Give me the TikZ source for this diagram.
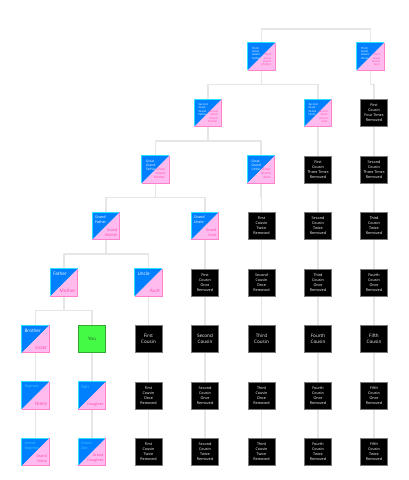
\documentclass[tikz,border=0pt]{standalone}
\usepackage{fontspec}
\setmainfont{Open Sans}
\definecolor{bfill}{RGB}{0,128,255}
\definecolor{bline}{RGB}{40,225,255}
\definecolor{pfill}{RGB}{255,187,238}
\definecolor{pline}{RGB}{255,130,200}
\definecolor{ptext}{RGB}{255,70,165}
\definecolor{ltblue}{RGB}{60,205,255}
\definecolor{conncol}{RGB}{230,230,230}
\definecolor{gfill}{RGB}{68,250,68}
\definecolor{gline}{RGB}{50,170,50}
\definecolor{gtext}{RGB}{40,90,40}
\definecolor{kline}{RGB}{120,120,120}
\pgfdeclarelayer{bg}
\pgfsetlayers{bg,main}
\tikzset{
  conn/.style={draw=conncol,line width=1.8pt},
  boxshape/.style={minimum width=27pt,minimum height=27pt,inner sep=0pt},
  toptext/.style={anchor=north west,align=left,inner xsep=2.5pt,inner ysep=3pt,text=white},
  bottext/.style={anchor=south east,align=right,inner xsep=2pt,inner ysep=3pt,text=ptext},
  tinyt/.style={inner xsep=4pt,inner ysep=4pt},
  blkbox/.style={minimum width=27pt,minimum height=27pt,inner sep=0pt,fill=black,draw=kline,line width=1pt,text=white,align=center},
  youbox/.style={minimum width=27pt,minimum height=27pt,inner sep=0pt,fill=gfill,draw=gline,line width=1pt,text=gtext},
  fA/.style={font=\fontsize{4.6}{5.6}\selectfont},
  fB/.style={font=\fontsize{3.7}{5}\selectfont},
  fC/.style={font=\fontsize{3.2}{4}\selectfont},
  fD/.style={font=\fontsize{2.7}{3.4}\selectfont},
  lb/.style={text=ltblue}
}
\newcommand{\duo}[7]{%
  \node[boxshape] (#1) at (#2,#3) {};
  \fill[bfill] (#1.north west) -- (#1.north east) -- (#1.south west) -- cycle;
  \fill[pfill] (#1.north east) -- (#1.south east) -- (#1.south west) -- cycle;
  \draw[bline,line width=1pt] (#1.south west) -- (#1.north west) -- (#1.north east);
  \draw[pline,line width=1pt] (#1.north east) -- (#1.south east) -- (#1.south west);
  \node[toptext,#6] (#1-t) at (#1.north west) {#4};
  \node[bottext,#7] (#1-b) at (#1.south east) {#5};
}
\newcommand{\lnk}[2]{\begin{pgfonlayer}{bg}\draw[conn] (#1.south) -- ++(0,14.25) -| (#2.north);\end{pgfonlayer}}
\begin{document}
\begin{tikzpicture}[x=1pt,y=-1pt]
\begin{pgfonlayer}{bg}
\fill[white] (0,0) rectangle (409,480);
\end{pgfonlayer}
\useasboundingbox (0,0) rectangle (409,480);
% row 1
\duo{ggfT}{261.5}{56.5}{Third\\Great\\Grand\\Father}{Third\\Great\\Grand\\Mother}{fD,tinyt}{fD,tinyt}
\duo{gguT}{370.5}{56.5}{Third\\Great\\Grand\\Uncle}{Third\\Great\\Grand\\Aunt}{fD,tinyt}{fD,tinyt}
% row 2
\duo{ggfS}{208}{113}{Second\\Great\\Grand\\Father}{Second\\Great\\Grand\\Mother}{fD,tinyt}{fD,tinyt}
\duo{gguS}{318}{113}{Second\\Great\\Grand\\Uncle}{Second\\Great\\Grand\\Aunt}{fD,tinyt}{fD,tinyt}
\node[blkbox,fB] (fc4r) at (374,113) {First\\Cousin\\Four Times\\Removed};
% row 3
\duo{ggf}{155.5}{169.5}{Great\\Grand\\Father}{Great\\Grand\\Mother}{fC,tinyt}{fC,tinyt}
\duo{ggu}{261}{169.5}{Great\\Grand\\Uncle}{Great\\Grand\\Aunt}{fC,tinyt}{fC,tinyt}
\node[blkbox,fB] (fc3r) at (318,169.5) {First\\Cousin\\Three Times\\Removed};
\node[blkbox,fB] (sc3r) at (374,169.5) {Second\\Cousin\\Three Times\\Removed};
% row 4
\duo{gf}{106}{226}{Grand\\Father}{Grand\\Mother}{fB}{fB}
\duo{gu}{205}{226}{Grand\\Uncle}{Grand\\Aunt}{fB}{fB}
\node[blkbox,fB] (fc2ra) at (261.5,226) {First\\Cousin\\Twice\\Removed};
\node[blkbox,fB] (sc2ra) at (318,226) {Second\\Cousin\\Twice\\Removed};
\node[blkbox,fB] (tc2ra) at (374,226) {Third\\Cousin\\Twice\\Removed};
% row 5
\duo{father}{64}{282.5}{Father}{Mother}{fA}{fA}
\duo{uncle}{148.5}{282.5}{Uncle}{Aunt}{fA}{fA}
\node[blkbox,fB] (fc1ra) at (205,282.5) {First\\Cousin\\Once\\Removed};
\node[blkbox,fB] (sc1ra) at (261.5,282.5) {Second\\Cousin\\Once\\Removed};
\node[blkbox,fB] (tc1ra) at (318,282.5) {Third\\Cousin\\Once\\Removed};
\node[blkbox,fB] (qc1ra) at (374,282.5) {Fourth\\Cousin\\Once\\Removed};
% row 6
\duo{brother}{35.5}{339}{Brother}{Sister}{fA}{fA}
\node[youbox,fA] (you) at (92,339) {You};
\node[blkbox,fA] (c1) at (148.5,339) {First\\Cousin};
\node[blkbox,fA] (c2) at (205,339) {Second\\Cousin};
\node[blkbox,fA] (c3) at (261.5,339) {Third\\Cousin};
\node[blkbox,fA] (c4) at (318,339) {Fourth\\Cousin};
\node[blkbox,fA] (c5) at (374,339) {Fifth\\Cousin};
% row 7
\duo{nephew}{35.5}{395.5}{Nephew}{Niece}{fB,lb}{fA}
\duo{son}{92}{395.5}{Son}{Daughter}{fA,lb}{fB}
\node[blkbox,fB] (c1r1) at (148.5,395.5) {First\\Cousin\\Once\\Removed};
\node[blkbox,fB] (c2r1) at (205,395.5) {Second\\Cousin\\Once\\Removed};
\node[blkbox,fB] (c3r1) at (261.5,395.5) {Third\\Cousin\\Once\\Removed};
\node[blkbox,fB] (c4r1) at (318,395.5) {Fourth\\Cousin\\Once\\Removed};
\node[blkbox,fB] (c5r1) at (374,395.5) {Fifth\\Cousin\\Once\\Removed};
% row 8
\duo{gnephew}{35.5}{452}{Grand\\Nephew}{Grand\\Niece}{fB,lb}{fB}
\duo{gson}{92}{452}{Grand\\Son}{Grand\\Daughter}{fB,lb}{fB}
\node[blkbox,fB] (c1r2) at (148.5,452) {First\\Cousin\\Twice\\Removed};
\node[blkbox,fB] (c2r2) at (205,452) {Second\\Cousin\\Twice\\Removed};
\node[blkbox,fB] (c3r2) at (261.5,452) {Third\\Cousin\\Twice\\Removed};
\node[blkbox,fB] (c4r2) at (318,452) {Fourth\\Cousin\\Twice\\Removed};
\node[blkbox,fB] (c5r2) at (374,452) {Fifth\\Cousin\\Twice\\Removed};
% connectors
\begin{pgfonlayer}{bg}
\draw[conn] (ggfT.north) -- ++(0,-14) -| (gguT.north);
\end{pgfonlayer}
\lnk{ggfT}{ggfS}\lnk{ggfT}{gguS}\lnk{gguT}{fc4r}
\lnk{ggfS}{ggf}\lnk{ggfS}{ggu}\lnk{gguS}{fc3r}\lnk{fc4r}{sc3r}
\lnk{ggf}{gf}\lnk{ggf}{gu}\lnk{ggu}{fc2ra}\lnk{fc3r}{sc2ra}\lnk{sc3r}{tc2ra}
\lnk{gf}{father}\lnk{gf}{uncle}\lnk{gu}{fc1ra}\lnk{fc2ra}{sc1ra}\lnk{sc2ra}{tc1ra}\lnk{tc2ra}{qc1ra}
\lnk{father}{brother}\lnk{father}{you}\lnk{uncle}{c1}\lnk{fc1ra}{c2}\lnk{sc1ra}{c3}\lnk{tc1ra}{c4}\lnk{qc1ra}{c5}
\lnk{brother}{nephew}\lnk{you}{son}\lnk{c1}{c1r1}\lnk{c2}{c2r1}\lnk{c3}{c3r1}\lnk{c4}{c4r1}\lnk{c5}{c5r1}
\lnk{nephew}{gnephew}\lnk{son}{gson}\lnk{c1r1}{c1r2}\lnk{c2r1}{c2r2}\lnk{c3r1}{c3r2}\lnk{c4r1}{c4r2}\lnk{c5r1}{c5r2}
\end{tikzpicture}
\end{document}
